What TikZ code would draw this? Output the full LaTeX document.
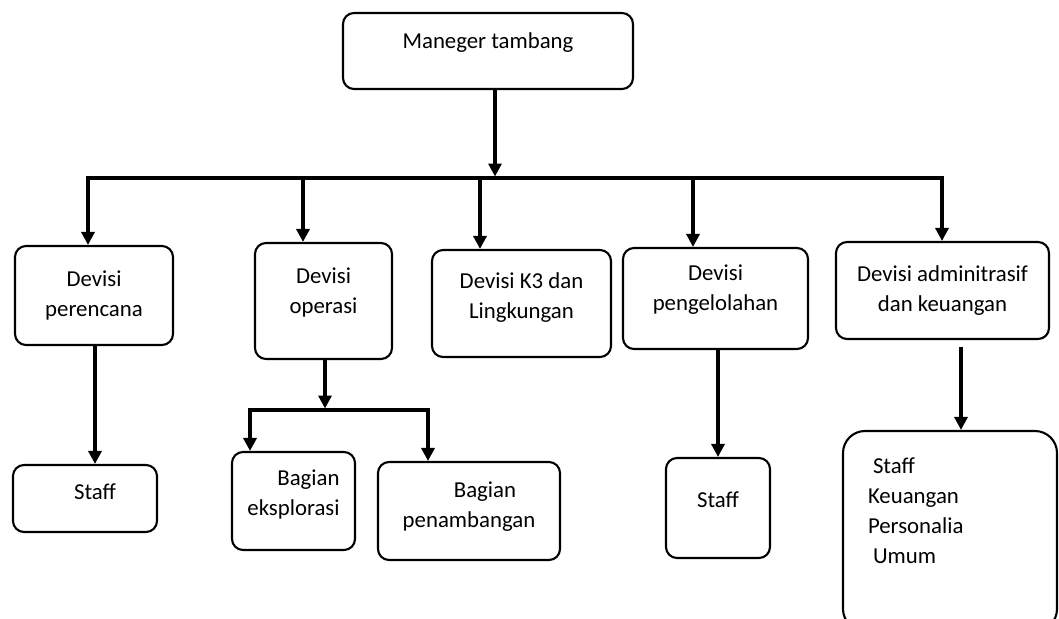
\documentclass[tikz,border=0pt]{standalone}
\usepackage{fontspec}
\setmainfont{Carlito}
\usepackage{tikz}
\usetikzlibrary{calc}
\usetikzlibrary{arrows.meta}
\tikzset{
	orgbox/.style={draw, rounded corners=11pt, line width=2.1pt, inner sep=0pt, align=center, font=\fontsize{22.8}{30}\selectfont},
	lifted/.style={text depth=#1},
	wire/.style={line width=3.4pt},
	link/.style={wire, -{Triangle[length=13pt,width=13pt]}},
}

\begin{document}
\begin{tikzpicture}[x=1pt,y=-1pt]
		\clip (0,0) rectangle (1059,618);
		\fill[white] (0,0) rectangle (1059,618);
		\node[orgbox, minimum width=290pt, minimum height=76pt, lifted=21pt] (manager) at (488,51) {Maneger tambang};
		\node[orgbox, minimum width=158pt, minimum height=99pt] (perencana) at (94,295.5) {Devisi\\perencana};
		\node[orgbox, minimum width=137pt, minimum height=116pt, lifted=19.7pt] (operasi) at (323.5,301) {Devisi\\operasi};
		\node[orgbox, minimum width=179pt, minimum height=107pt, lifted=15.7pt] (keselamatan) at (521.5,303.5) {Devisi K3 dan\\Lingkungan};
		\node[orgbox, minimum width=185pt, minimum height=101pt, lifted=21.7pt] (pengelolahan) at (715.5,298.5) {Devisi\\pengelolahan};
		\node[orgbox, minimum width=213pt, minimum height=97pt] (administrasi) at (942.5,290.5) {Devisi adminitrasif\\dan keuangan};
		\node[orgbox, minimum width=144pt, minimum height=67pt, lifted=13pt] (staffperencana) at (85,498.5) {\hspace*{20pt}Staff};
		\node[orgbox, align=right, minimum width=123pt, minimum height=98pt, lifted=17.7pt] (eksplorasi) at (293.5,501) {Bagian\\eksplorasi};
		\node[orgbox, minimum width=182pt, minimum height=98pt, lifted=13.7pt] (penambangan) at (469,511) {\hspace*{32pt}Bagian\\penambangan};
		\node[orgbox, minimum width=104pt, minimum height=100pt, lifted=16pt] (staffpengelolahan) at (718,508) {Staff};
		\node[orgbox, rounded corners=22pt, align=left, text width=164pt, minimum width=214pt, minimum height=200pt, text height=15pt, text depth=131pt] (staffadmin) at (950,531) {\hspace*{5pt}Staff\\Keuangan\\Personalia\\\hspace*{5pt}Umum};
		% garis utama
		\coordinate (busleft) at (88,178);
		\coordinate (busright) at (942,178);
		\coordinate (trunktop) at ([xshift=7pt]manager.south);
		\draw[wire, line cap=rect] (busleft) -- (busright);
		\draw[link] (trunktop) -- ([yshift=1.5pt]trunktop |- busleft);
		\foreach \x/\dest in {88/perencana, 303/operasi, 480/keselamatan, 693/pengelolahan, 942/administrasi}{
			\coordinate (drop) at (\x,178);
			\draw[link] (drop) -- (drop |- \dest.north);
		}
		\coordinate (perencanadrop) at ([xshift=1pt]perencana.south);
		\draw[link] (perencanadrop) -- (perencanadrop |- staffperencana.north);
		\coordinate (operasijoint) at (325,410);
		\coordinate (cabangkiri) at (250,410);
		\coordinate (cabangkanan) at (428,410);
		\draw[wire, line cap=rect] (cabangkiri) -- (cabangkanan);
		\draw[link] (operasi.south -| operasijoint) -- ([yshift=1.5pt]operasijoint);
		\draw[link] (cabangkiri) -- (cabangkiri |- eksplorasi.north);
		\draw[link] (cabangkanan) -- (cabangkanan |- penambangan.north);
		\draw[link] (staffpengelolahan.north |- pengelolahan.south) -- (staffpengelolahan.north);
		\coordinate (admindrop) at (961,347);
		\draw[link] (admindrop) -- (admindrop |- staffadmin.north);
	\end{tikzpicture}
\end{document}
